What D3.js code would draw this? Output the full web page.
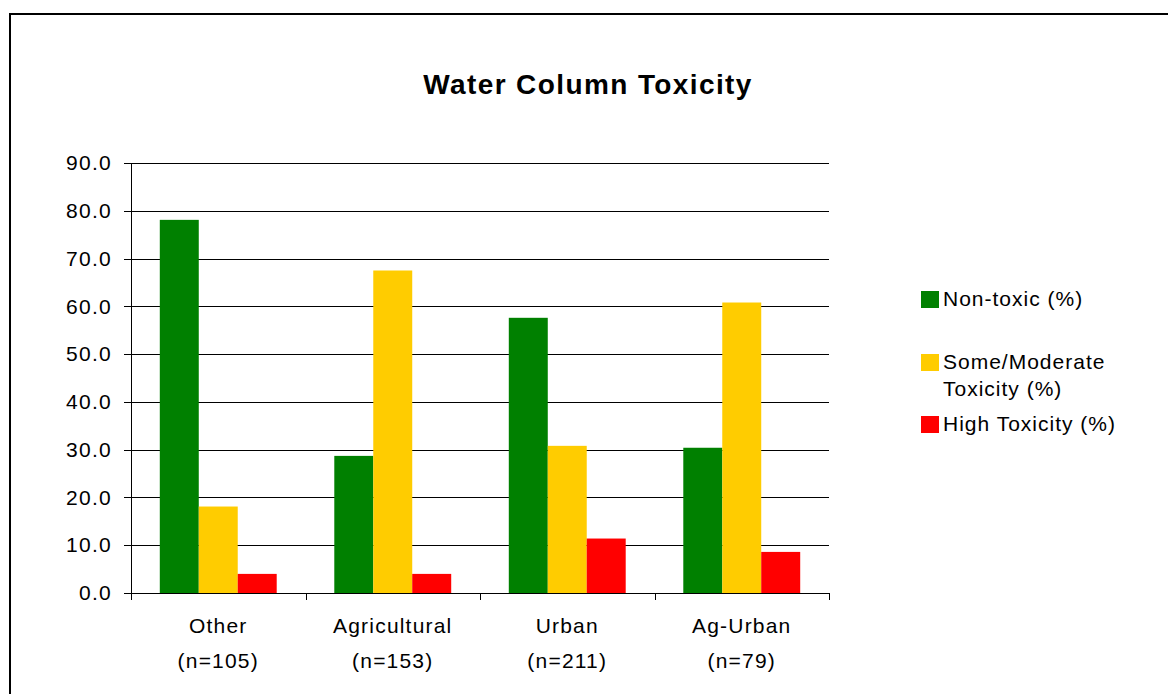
<!DOCTYPE html>
<meta charset="utf-8">
<style>
body { margin: 0; background: #fff; }
text { font-family: "Liberation Sans", Arial, sans-serif; fill: #000; }
.grid line { stroke: #000; stroke-width: 1; shape-rendering: crispEdges; }
.axis path, .axis line { stroke: #000; shape-rendering: crispEdges; }
</style>
<body>
<script src="https://d3js.org/d3.v7.min.js"></script>
<script>
// categories and series
var categories = ["Other", "Agricultural", "Urban", "Ag-Urban"];
var sampleSizes = ["(n=105)", "(n=153)", "(n=211)", "(n=79)"];
var seriesNames = ["Non-toxic (%)", "Some/Moderate Toxicity (%)", "High Toxicity (%)"];
var nonToxic = [78.1, 28.7, 57.6, 30.4];
var moderate = [18.1, 67.5, 30.8, 60.8];
var highTox = [4.0, 4.0, 11.4, 8.6];
var yTicks = [0, 10, 20, 30, 40, 50, 60, 70, 80, 90];
var colors = ["#008000", "#ffcc00", "#ff0000"];

var seriesValues = [nonToxic, moderate, highTox];

var W = 1168, H = 694;
var margin = {top: 163, left: 131, right: 339, bottom: 101};
var width = W - margin.left - margin.right,
    height = H - margin.top - margin.bottom;

var svg = d3.select("body").append("svg")
    .attr("width", W)
    .attr("height", H);

// outer chart border
svg.append("rect")
    .attr("x", 10).attr("y", 14)
    .attr("width", W + 10).attr("height", H + 10)
    .attr("fill", "none")
    .attr("stroke", "#000")
    .attr("stroke-width", 2);

svg.append("text")
    .attr("x", 588).attr("y", 94)
    .attr("text-anchor", "middle")
    .style("font-size", "28px")
    .style("font-weight", "bold")
    .style("letter-spacing", "1.4px")
    .text("Water Column Toxicity");

var g = svg.append("g")
    .attr("transform", "translate(" + margin.left + "," + margin.top + ")");

var x0 = d3.scaleBand()
    .domain(categories)
    .range([0, width])
    .paddingInner(0.33)
    .paddingOuter(0.165);

var x1 = d3.scaleBand()
    .domain(d3.range(seriesNames.length))
    .range([0, x0.bandwidth()]);

var y = d3.scaleLinear()
    .domain([0, 90])
    .range([height, 0]);

// gridlines
g.append("g")
    .attr("class", "grid")
    .selectAll("line")
    .data(yTicks.slice(1))
    .enter().append("line")
    .attr("x1", 0).attr("x2", width)
    .attr("y1", function(d) { return Math.round(y(d)) + 0.5; })
    .attr("y2", function(d) { return Math.round(y(d)) + 0.5; });

// bars
var groups = g.selectAll(".cat")
    .data(categories)
    .enter().append("g")
    .attr("class", "cat")
    .attr("transform", function(d) { return "translate(" + x0(d) + ",0)"; });

groups.selectAll("rect")
    .data(function(d, i) {
      return seriesValues.map(function(s, j) { return {s: j, v: s[i]}; });
    })
    .enter().append("rect")
    .attr("x", function(d) { return x1(d.s); })
    .attr("width", x1.bandwidth())
    .attr("y", function(d) { return y(d.v); })
    .attr("height", function(d) { return height - y(d.v); })
    .attr("fill", function(d) { return colors[d.s]; });

// y axis
var yAxis = d3.axisLeft(y)
    .tickValues(yTicks)
    .tickFormat(d3.format(".1f"))
    .tickSize(7)
    .tickPadding(12);

g.append("g")
    .attr("class", "axis")
    .call(yAxis)
    .call(function(a) {
      a.select(".domain").attr("d", "M0.5," + (height + 0.5) + "V0.5");
      a.selectAll("text")
        .style("font-size", "21px")
        .style("letter-spacing", "1.3px");
    });

// x axis with ticks between categories
var xAxisG = g.append("g")
    .attr("class", "axis")
    .attr("transform", "translate(0," + height + ")");

xAxisG.append("line")
    .attr("x1", 0).attr("x2", width)
    .attr("y1", 0.5).attr("y2", 0.5);

var step = width / categories.length;
xAxisG.selectAll(".xtick")
    .data(d3.range(categories.length + 1))
    .enter().append("line")
    .attr("class", "xtick")
    .attr("x1", function(d) { return Math.round(d * step) + 0.5; })
    .attr("x2", function(d) { return Math.round(d * step) + 0.5; })
    .attr("y1", 0).attr("y2", 7);

var labels = xAxisG.selectAll(".xlab")
    .data(categories)
    .enter().append("text")
    .attr("class", "xlab")
    .attr("text-anchor", "middle")
    .attr("transform", function(d) { return "translate(" + (x0(d) + x0.bandwidth() / 2) + ",0)"; })
    .style("font-size", "21px")
    .style("letter-spacing", "1.2px");

labels.append("tspan")
    .attr("x", 0).attr("y", 40)
    .text(function(d) { return d; });
labels.append("tspan")
    .attr("x", 0).attr("y", 75)
    .text(function(d, i) { return sampleSizes[i]; });

// legend
var legendItems = [
  {lines: ["Non-toxic (%)"], y: 291},
  {lines: ["Some/Moderate", "Toxicity (%)"], y: 354},
  {lines: ["High Toxicity (%)"], y: 416}
];

var legend = svg.append("g");
legendItems.forEach(function(item, i) {
  legend.append("rect")
    .attr("x", 921).attr("y", item.y)
    .attr("width", 18).attr("height", 17)
    .attr("fill", colors[i]);
  var t = legend.append("text")
    .style("font-size", "21px")
    .style("letter-spacing", "1px");
  item.lines.forEach(function(l, k) {
    t.append("tspan")
      .attr("x", 943)
      .attr("y", item.y + 15 + k * 27)
      .text(l);
  });
});
</script>
</body>
